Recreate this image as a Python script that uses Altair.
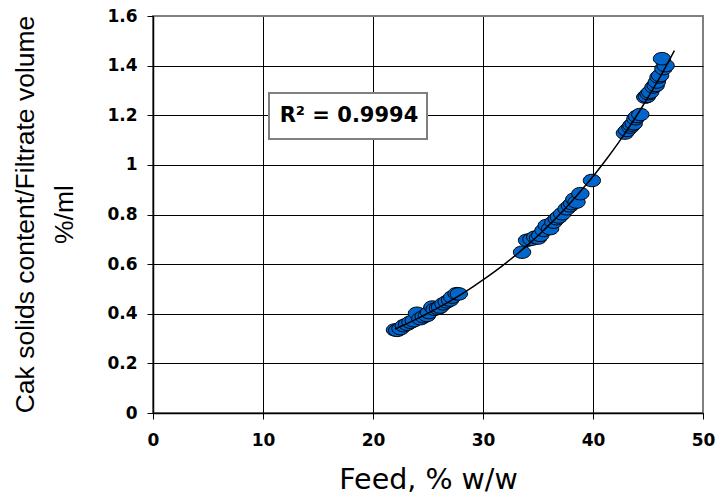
import altair as alt
import pandas as pd

# Feed concentration (% w/w) and cake solids content / filtrate volume (%/ml)
feed = [
    22.0, 22.2, 22.5, 22.8, 23.1, 23.4, 23.7, 24.0, 24.3, 24.6, 24.9, 25.1,
    25.4, 25.6, 25.9, 26.1, 26.4, 26.7, 27.0, 27.2, 27.6, 27.8,
    33.55, 34.0, 34.4, 34.75, 35.0, 35.2, 35.5, 35.8, 36.1, 36.4, 36.7, 36.9,
    37.2, 37.6, 37.9, 38.1, 38.3, 38.5, 38.85, 39.9,
    42.9, 43.1, 43.4, 43.5, 43.7, 43.85, 44.0, 44.3,
    44.75, 44.9, 45.05, 45.2, 45.5, 45.7, 45.8, 45.96, 46.1, 46.4, 46.6, 46.27,
]
ratio = [
    0.335, 0.333, 0.340, 0.352, 0.358, 0.366, 0.372, 0.402, 0.380, 0.388, 0.393, 0.405,
    0.427, 0.418, 0.422, 0.427, 0.440, 0.448, 0.455, 0.467, 0.481, 0.480,
    0.648, 0.696, 0.700, 0.709, 0.705, 0.716, 0.736, 0.756, 0.743, 0.769, 0.783, 0.790,
    0.803, 0.823, 0.835, 0.844, 0.862, 0.850, 0.884, 0.937,
    1.128, 1.139, 1.152, 1.160, 1.166, 1.186, 1.195, 1.203,
    1.273, 1.276, 1.287, 1.293, 1.314, 1.320, 1.334, 1.354, 1.360, 1.388, 1.400, 1.428,
]

x_ticks = [0, 10, 20, 30, 40, 50]
y_ticks = [0, 0.2, 0.4, 0.6, 0.8, 1.0, 1.2, 1.4, 1.6]
trend_extent = [22.0, 47.4]
r2_label = ["R² = 0.9994"]

df = pd.DataFrame({"feed": feed, "ratio": ratio})

ELLIPSE = "M-1,0A1,0.72,0,1,1,1,0A1,0.72,0,1,1,-1,0Z"
GRAY = "#808080"

x_enc = alt.X(
    "feed:Q",
    scale=alt.Scale(domain=[0, 50], nice=False, zero=False),
    axis=alt.Axis(
        values=x_ticks, format="d", grid=True,
        gridColor=alt.condition("datum.value > 49", alt.value(GRAY), alt.value("black")),
        gridWidth=1, domainColor="black", domainWidth=1.5,
        tickColor="black", tickSize=6, tickWidth=1,
        labelFont="DejaVu Sans", labelFontWeight="bold", labelFontSize=17,
        labelColor="black", labelPadding=13, labelFlush=False,
        title="Feed, % w/w", titleFont="DejaVu Sans", titleFontSize=28.5,
        titleFontWeight="normal", titleColor="black",
        titleY=75.5, titleBaseline="alphabetic",
    ),
)
y_enc = alt.Y(
    "ratio:Q",
    scale=alt.Scale(domain=[0, 1.6], nice=False, zero=False),
    axis=alt.Axis(
        values=y_ticks, format="~f", grid=True,
        gridColor=alt.condition("datum.value > 1.55", alt.value(GRAY), alt.value("black")),
        gridWidth=1, domainColor="black", domainWidth=1.5,
        tickColor="black", tickSize=6, tickWidth=1,
        labelFont="DejaVu Sans", labelFontWeight="bold", labelFontSize=17,
        labelColor="black", labelPadding=10,
        title=["Cak solids content/Filtrate volume", "%/ml"],
        titleFont="Liberation Sans", titleFontSize=26.5, titleFontWeight="normal",
        titleColor="black", titleAngle=270, titleX=-119.5, titleY=198,
        titleAlign="center", titleBaseline="alphabetic", titleLineHeight=38.5,
    ),
)

base = alt.Chart(df)

points = base.mark_point(
    shape=ELLIPSE, size=300, filled=True, fill="#0066CC", stroke="black",
    strokeWidth=1, opacity=1, fillOpacity=1, strokeOpacity=1,
).encode(x=x_enc, y=y_enc)

# Excel-style exponential trendline: least squares on log(y), then back-transform
trend = (
    base.transform_calculate(logr="log(datum.ratio)")
    .transform_regression("feed", "logr", method="poly", order=1, extent=trend_extent)
    .transform_calculate(ratio="exp(datum.logr)")
    .mark_line(color="black", strokeWidth=1.5, interpolate="monotone")
    .encode(x=x_enc, y=y_enc)
)

lab_df = pd.DataFrame({"t": r2_label})
box = alt.Chart(lab_df).mark_rect(
    fill="white", stroke=GRAY, strokeWidth=2
).encode(x=alt.value(116), x2=alt.value(274), y=alt.value(77), y2=alt.value(123))

text = alt.Chart(lab_df).mark_text(
    font="DejaVu Sans", fontWeight="bold", fontSize=21, align="center",
    baseline="middle", color="black",
).encode(x=alt.value(196), y=alt.value(100), text="t:N")

chart = alt.layer(points, trend, box, text).properties(
    width=550, height=397,
    autosize=alt.AutoSizeParams(type="none"),
    padding={"left": 153, "top": 16, "right": 15, "bottom": 85},
    background="white",
).configure_view(stroke=GRAY, strokeWidth=2)

chart.save("out.html", embed_options={"renderer": "svg", "actions": False})
